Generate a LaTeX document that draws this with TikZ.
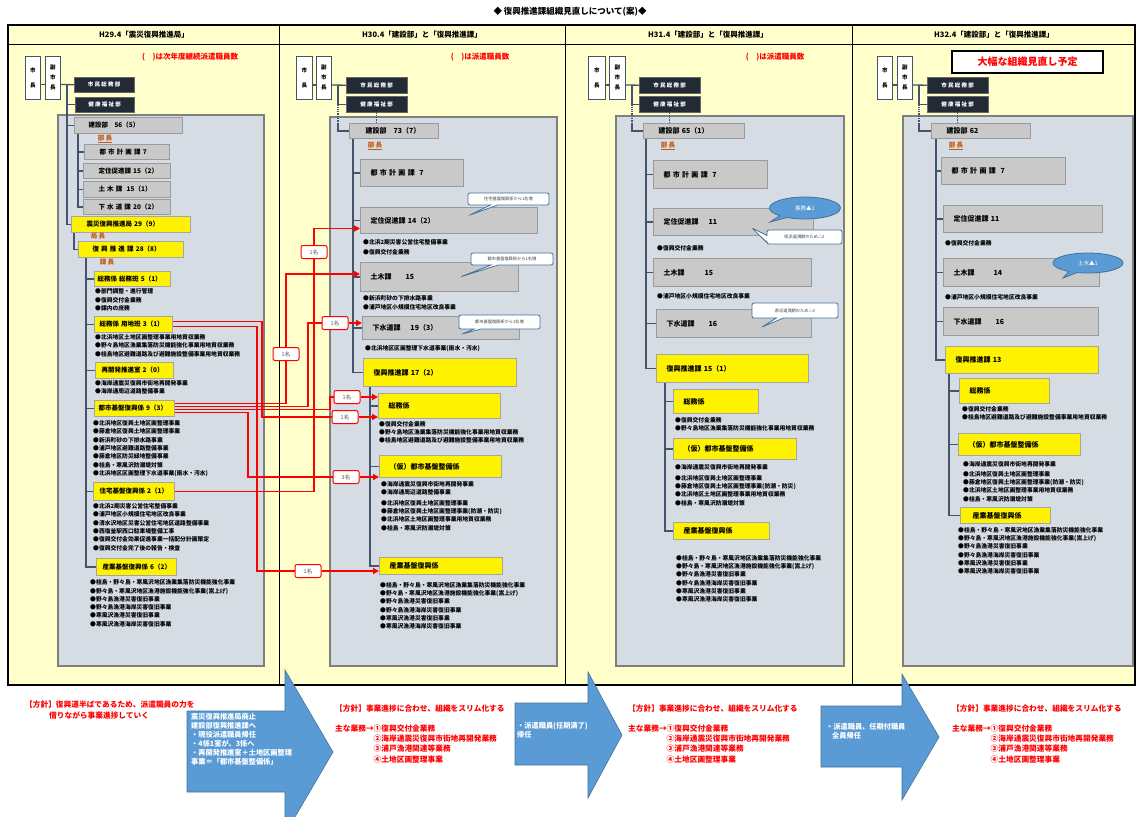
\documentclass[tikz,border=0pt]{standalone}
\usepackage{fontspec}
\setmainfont{Noto Sans CJK JP}
\usetikzlibrary{arrows.meta,shapes.callouts}
\definecolor{bgyellow}{HTML}{FFFFCC}
\definecolor{panelfill}{HTML}{D6DCE4}
\definecolor{panelline}{HTML}{7F7F7F}
\definecolor{greyfill}{HTML}{C9C9C9}
\definecolor{greyline}{HTML}{9A9A9A}
\definecolor{ylwline}{HTML}{A5A5A5}
\definecolor{darkfill}{HTML}{222A35}
\definecolor{lineblue}{HTML}{44546A}
\definecolor{chiefcol}{HTML}{C55A11}
\definecolor{arrowblue}{HTML}{5B9BD5}
\definecolor{arrowline}{HTML}{41719C}
\begin{document}
\begin{tikzpicture}[x=1pt,y=-1pt,
gbox/.style ={draw=greyline, fill=greyfill, line width=1pt, anchor=north west,
  inner xsep=10pt, inner ysep=0pt, align=left,
  font=\fontsize{7}{8}\selectfont\bfseries},
ybox/.style ={gbox, draw=ylwline, fill=yellow},
sgbox/.style ={gbox, font=\fontsize{6.5}{7}\selectfont\bfseries},
sybox/.style ={sgbox, draw=ylwline, fill=yellow},
dbox/.style ={draw=black!60, fill=darkfill, text=white, anchor=north west,
  inner sep=0pt, minimum width=61pt, minimum height=16pt,
  font=\fontsize{5.5}{6}\selectfont\bfseries},
mbox/.style ={draw=lineblue, fill=white, line width=0.8pt, anchor=north west,
  inner sep=0pt, minimum width=15pt, minimum height=43pt, align=center},
mtwo/.style ={mbox, font=\fontsize{5.5}{15}\selectfont\bfseries},
mthree/.style ={mbox, font=\fontsize{5.5}{10}\selectfont\bfseries},
panel/.style ={draw=panelline, fill=panelfill, line width=1.5pt},
orgline/.style ={draw=lineblue, line width=1.3pt},
blt/.style ={anchor=north west, inner sep=0pt, align=left,
  font=\fontsize{5.8}{8.3}\selectfont\bfseries},
chief/.style ={text=chiefcol, inner sep=0pt, font=\fontsize{6.5}{7}\selectfont\bfseries},
head/.style ={inner sep=0pt, font=\fontsize{7.5}{8}\selectfont\bfseries},
rnote/.style ={text=red, inner sep=0pt, font=\fontsize{7.5}{8}\selectfont\bfseries},
redline/.style ={draw=red, line width=1.6pt},
redarrow/.style ={redline, -{Triangle[length=6pt,width=6pt]}},
cnt/.style ={draw=red, fill=white, line width=1pt, rounded corners=2pt,
  minimum width=26pt, minimum height=13pt, inner sep=0pt,
  text=black!65, font=\fontsize{5.5}{6}\selectfont},
note/.style ={rectangle callout, draw=arrowline, fill=white, line width=0.8pt,
  rounded corners=2pt, inner sep=0pt, text=black!75,
  font=\fontsize{4.2}{5}\selectfont},
bubble/.style ={ellipse callout, draw=arrowline, fill=arrowblue, line width=0.8pt,
  inner sep=0pt, text=white, font=\fontsize{5.5}{6}\selectfont},
bigarrow/.style ={draw=arrowline, fill=arrowblue, line width=0.6pt},
arrowtxt/.style ={anchor=north west, inner sep=0pt, align=left, text=white,
  font=\fontsize{7.2}{9}\selectfont\bfseries},
policy/.style ={anchor=north west, inner sep=0pt, align=left, text=red,
  font=\fontsize{7.7}{10.3}\selectfont\bfseries}
]
\useasboundingbox (0,0) rectangle (1136,817);
\node (title) at (570,12) [inner sep=0pt, font=\fontsize{8.5}{9}\selectfont\bfseries] {◆ 復興推進課組織見直しについて(案)◆};
\fill[bgyellow] (8,25) rectangle (1135,685);
\draw[line width=1.2pt] (8,25) rectangle (1135,685);
\draw[line width=1pt] (8,44) -- (1135,44);
\draw[line width=1pt] (279,25) -- (279,685);
\draw[line width=1pt] (565,25) -- (565,685);
\draw[line width=1pt] (852,25) -- (852,685);
\draw[panel] (58,115) rectangle (264,666);
\draw[panel] (330,117) rectangle (557,666);
\draw[panel] (616,116) rectangle (844,666);
\draw[panel] (903,116) rectangle (1133,666);

\node (hd1) at (144,35) [head] {H29.4「震災復興推進局」};
\node (nt1) at (190,57) [rnote] {(　)は次年度継続派遣職員数};
\node (mayor1) at (25,56) [mtwo] {市\\長};
\node (vice1) at (45,56) [mthree] {副\\市\\長};
\node (shimin1) at (74,77) [dbox, minimum width=60pt, minimum height=15pt] {市 民 総 務 部};
\node (kenko1) at (75,97) [dbox, minimum width=59pt, minimum height=15pt] {健 康 福 祉 部};
\node (k1) at (74,117) [sgbox, inner xsep=14pt, text width=80pt, minimum height=16pt] {建設部\quad 56（5）};
\node (bucho1) at (105,139) [chief] {\underline{部 長}};
\node (tk1) at (84,144) [sgbox, inner xsep=15pt, text width=55pt, minimum height=15pt] {都~市~計~画~課~7};
\node (tj1) at (83,163) [sgbox, inner xsep=15pt, text width=57pt, minimum height=15pt] {定住促進課~15（2）};
\node (dk1) at (83,181) [sgbox, inner xsep=15pt, text width=57pt, minimum height=16pt] {土~木~課~~15（1）};
\node (gs1) at (83,199) [sgbox, inner xsep=15pt, text width=57pt, minimum height=15pt] {下~水~道~課~20（2）};
\node (sk1) at (71,216) [sybox, inner xsep=15pt, text width=89pt, minimum height=16pt] {震災復興推進局~29（9）};
\node (kyoku1) at (98,236) [chief] {局 長};
\node (fk1) at (78,241) [sybox, inner xsep=14pt, text width=77pt, minimum height=16pt] {復~興~推~進~課~28（8）};
\node (kacho1) at (107,262) [chief] {課 長};
\node (sm1) at (94,271) [sybox, inner xsep=3pt, text width=70pt, minimum height=15pt] {総務係~総務班~5（1）};
\node (yc1) at (94,316) [sybox, inner xsep=5pt, text width=68pt, minimum height=16pt] {総務係~用地班~3（1）};
\node (sai1) at (95,362) [sybox, inner xsep=6pt, text width=66pt, minimum height=16pt] {再開発推進室~2（0）};
\node (tb1) at (94,400) [sybox, inner xsep=4pt, text width=72pt, minimum height=16pt] {都市基盤復興係~9（3）};
\node (jt1) at (93,482) [sybox, inner xsep=6pt, text width=69pt, minimum height=18pt] {住宅基盤復興係~2（1）};
\node (sg1) at (96,558) [sybox, inner xsep=6pt, text width=68pt, minimum height=17pt] {産業基盤復興係~6（2）};
\node (b1a) at (95,288.5) [blt] {●部門調整・進行管理\\●復興交付金業務\\●課内の庶務};
\node (b1b) at (95,334.5) [blt] {●北浜地区土地区画整理事業用地買収業務\\●野々島地区漁業集落防災機能強化事業用地買収業務\\●桂島地区避難道路及び避難施設整備事業用地買収業務};
\node (b1c) at (95,380.5) [blt] {●海岸通震災復興市街地再開発事業\\●海岸通周辺道路整備事業};
\node (b1d) at (93,420.5) [blt] {●北浜地区復興土地区画整理事業\\●藤倉地区復興土地区画整理事業\\●新浜町砂の下排水路事業\\●浦戸地区避難道路整備事業\\●藤倉地区防災緑地整備事業\\●桂島・寒風沢防潮堤対策\\●北浜地区区画整理下水道事業(雨水・汚水)};
\node (b1e) at (93,503.5) [blt] {●北浜2期災害公営住宅整備事業\\●浦戸地区小規模住宅地区改良事業\\●清水沢地区災害公営住宅地区道路整備事業\\●西塩釜駅西口駐車場整備工事\\●復興交付金効果促進事業一括配分計画策定\\●復興交付金完了後の報告・検査};
\node (b1f) at (90,579.5) [blt] {●桂島・野々島・寒風沢地区漁業集落防災機能強化事業\\●野々島・寒風沢地区漁港施設機能強化事業(嵩上げ)\\●野々島漁港災害復旧事業\\●野々島漁港海岸災害復旧事業\\●寒風沢漁港災害復旧事業\\●寒風沢漁港海岸災害復旧事業};

\node (hd2) at (422,35) [head] {H30.4「建設部」と「復興推進課」};
\node (nt2) at (480,57) [rnote] {(　)は派遣職員数};
\node (mayor2) at (296,56) [mtwo, minimum width=16pt] {市\\長};
\node (vice2) at (316,56) [mthree] {副\\市\\長};
\node (shimin2) at (346,77) [dbox] {市 民 総 務 部};
\node (kenko2) at (346,96) [dbox] {健 康 福 祉 部};
\node (k2) at (349,123) [gbox, inner xsep=16pt, text width=57pt, minimum height=15pt] {建設部\quad 73（7）};
\node (bucho2) at (375,146) [chief] {\underline{部 長}};
\node (tk2) at (360,159) [gbox, text width=83pt, minimum height=27pt] {都~市~計~画~課~~7};
\node (tj2) at (360,207) [gbox, text width=157pt, minimum height=26pt] {定住促進課~14（2）};
\node (dk2) at (360,262) [gbox, text width=138pt, minimum height=29pt] {土木課\hspace{14pt}15};
\node (gs2) at (362,316) [gbox, text width=137pt, minimum height=23pt] {下水道課\hspace{10pt}19（3）};
\node (fk2) at (363,358) [ybox, text width=133pt, minimum height=28pt] {復興推進課~17（2）};
\node (sm2) at (378,393) [ybox, text width=102pt, minimum height=25pt] {総務係};
\node (kb2) at (379,455) [ybox, text width=102pt, minimum height=22pt] {（仮）都市基盤整備係};
\node (sg2) at (379,557) [ybox, text width=103pt, minimum height=17pt] {産業基盤復興係};
\node (b2a) at (363,239) [blt, font=\fontsize{5.8}{10}\selectfont\bfseries] {●北浜2期災害公営住宅整備事業\\●復興交付金業務};
\node (b2b) at (363,295) [blt, font=\fontsize{5.8}{9}\selectfont\bfseries] {●新浜町砂の下排水路事業\\●浦戸地区小規模住宅地区改良事業};
\node (b2c) at (365,345) [blt] {●北浜地区区画整理下水道事業(雨水・汚水)};
\node (b2d) at (379,421) [blt] {●復興交付金業務\\●野々島地区漁業集落防災機能強化事業用地買収業務\\●桂島地区避難道路及び避難施設整備事業用地買収業務};
\node (b2e) at (381,481) [blt] {●海岸通震災復興市街地再開発事業\\●海岸通周辺道路整備事業\\[2.5pt]●北浜地区復興土地区画整理事業\\●藤倉地区復興土地区画整理事業(防潮・防災)\\●北浜地区土地区画整理事業用地買収業務\\●桂島・寒風沢防潮堤対策};
\node (b2f) at (380,582) [blt] {●桂島・野々島・寒風沢地区漁業集落防災機能強化事業\\●野々島・寒風沢地区漁港施設機能強化事業(嵩上げ)\\●野々島漁港災害復旧事業\\●野々島漁港海岸災害復旧事業\\●寒風沢漁港災害復旧事業\\●寒風沢漁港海岸災害復旧事業};

\node (hd3) at (708,35) [head] {H31.4「建設部」と「復興推進課」};
\node (nt3) at (775,57) [rnote] {(　)は派遣職員数};
\node (mayor3) at (588,56) [mtwo, minimum width=17pt] {市\\長};
\node (vice3) at (609,56) [mthree, minimum width=16pt] {副\\市\\長};
\node (shimin3) at (639,77) [dbox] {市 民 総 務 部};
\node (kenko3) at (639,96) [dbox] {健 康 福 祉 部};
\node (k3) at (643,123) [gbox, inner xsep=15pt, text width=71pt, minimum height=15pt] {建設部~65（1）};
\node (bucho3) at (668,146) [chief] {\underline{部 長}};
\node (tk3) at (653,160) [gbox, text width=94pt, minimum height=28pt] {都~市~計~画~課~~7};
\node (tj3) at (653,208) [gbox, text width=140pt, minimum height=27pt] {定住促進課\hspace{10pt}11};
\node (dk3) at (653,258) [gbox, text width=138pt, minimum height=28pt] {土木課\hspace{20pt}15};
\node (gs3) at (656,309) [gbox, text width=135pt, minimum height=28pt] {下水道課\hspace{14pt}16};
\node (fk3) at (656,354) [ybox, text width=132pt, minimum height=28pt] {復興推進課~15（1）};
\node (sm3) at (673,389) [ybox, text width=65pt, minimum height=24pt] {総務係};
\node (kb3) at (673,438) [ybox, text width=103pt, minimum height=21pt] {（仮）都市基盤整備係};
\node (sg3) at (673,522) [ybox, text width=76pt, minimum height=17pt] {産業基盤復興係};
\node (b3a) at (657,245) [blt] {●復興交付金業務};
\node (b3b) at (657,293) [blt] {●浦戸地区小規模住宅地区改良事業};
\node (b3c) at (675,417) [blt] {●復興交付金業務\\●野々島地区漁業集落防災機能強化事業用地買収業務};
\node (b3d) at (675,464) [blt] {●海岸通震災復興市街地再開発事業\\[2.7pt]●北浜地区復興土地区画整理事業\\●藤倉地区復興土地区画整理事業(防潮・防災)\\●北浜地区土地区画整理事業用地買収業務\\●桂島・寒風沢防潮堤対策};
\node (b3e) at (676,555) [blt] {●桂島・野々島・寒風沢地区漁業集落防災機能強化事業\\●野々島・寒風沢地区漁港施設機能強化事業(嵩上げ)\\●野々島漁港災害復旧事業\\●野々島漁港海岸災害復旧事業\\●寒風沢漁港災害復旧事業\\●寒風沢漁港海岸災害復旧事業};

\node (hd4) at (994,35) [head] {H32.4「建設部」と「復興推進課」};
\node (rev4) at (1027.5,62) [draw, fill=white, line width=1.5pt, minimum width=151pt, minimum height=22pt, inner sep=0pt, text=red, font=\fontsize{10}{11}\selectfont\bfseries] {大幅な組織見直し予定};
\node (mayor4) at (877,56) [mtwo] {市\\長};
\node (vice4) at (897,56) [mthree] {副\\市\\長};
\node (shimin4) at (927,77) [dbox] {市 民 総 務 部};
\node (kenko4) at (927,96) [dbox] {健 康 福 祉 部};
\node (k4) at (931,123) [gbox, inner xsep=15pt, text width=69pt, minimum height=15pt] {建設部~62};
\node (bucho4) at (956,146) [chief] {\underline{部 長}};
\node (tk4) at (941,157) [gbox, text width=104pt, minimum height=27pt] {都~市~計~画~課~~7};
\node (tj4) at (943,205) [gbox, text width=139pt, minimum height=27pt] {定住促進課~11};
\node (dk4) at (943,258) [gbox, text width=136pt, minimum height=28pt] {土木課\hspace{19pt}14};
\node (gs4) at (943,307) [gbox, text width=135pt, minimum height=28pt] {下水道課\hspace{14pt}16};
\node (fk4) at (945,346) [ybox, text width=133pt, minimum height=27pt] {復興推進課~13};
\node (sm4) at (959,378) [ybox, text width=70pt, minimum height=25pt] {総務係};
\node (kb4) at (958,433) [ybox, text width=102pt, minimum height=22pt] {（仮）都市基盤整備係};
\node (sg4) at (960,507) [ybox, inner xsep=12pt, text width=66pt, minimum height=16pt] {産業基盤復興係};
\node (b4a) at (945,240) [blt] {●復興交付金業務};
\node (b4b) at (945,294) [blt] {●浦戸地区小規模住宅地区改良事業};
\node (b4c) at (962,406) [blt] {●復興交付金業務\\●桂島地区避難道路及び避難施設整備事業用地買収業務};
\node (b4d) at (963,461) [blt] {●海岸通震災復興市街地再開発事業\\[1.7pt]●北浜地区復興土地区画整理事業\\●藤倉地区復興土地区画整理事業(防潮・防災)\\●北浜地区土地区画整理事業用地買収業務\\●桂島・寒風沢防潮堤対策};
\node (b4e) at (958,527) [blt] {●桂島・野々島・寒風沢地区漁業集落防災機能強化事業\\●野々島・寒風沢地区漁港施設機能強化事業(嵩上げ)\\●野々島漁港災害復旧事業\\●野々島漁港海岸災害復旧事業\\●寒風沢漁港災害復旧事業\\●寒風沢漁港海岸災害復旧事業};

\coordinate (j1) at (67,84.5);
\draw[orgline] (mayor1.east |- j1) -- (vice1.west |- j1);
\draw[orgline] (vice1.east |- j1) -- (shimin1.west);
\draw[orgline] (j1) |- (sk1.west);
\draw[orgline] (j1 |- kenko1.west) -- (kenko1.west);
\draw[orgline] (j1 |- k1.west) -- (k1.west);
\coordinate (t1) at ([xshift=4pt]k1.south west);
\draw[orgline] (t1) |- (gs1.west);
\draw[orgline] (t1 |- tk1.west) -- (tk1.west);
\draw[orgline] (t1 |- tj1.west) -- (tj1.west);
\draw[orgline] (t1 |- dk1.west) -- (dk1.west);
\draw[orgline] ([xshift=3pt]sk1.south west) |- (fk1.west);
\coordinate (f1) at ([xshift=8pt]fk1.south west);
\draw[orgline] (f1) |- (sg1.west);
\draw[orgline] (f1 |- sm1.west) -- (sm1.west);
\draw[orgline] (f1 |- yc1.west) -- (yc1.west);
\draw[orgline] (f1 |- sai1.west) -- (sai1.west);
\draw[orgline] (f1 |- tb1.west) -- (tb1.west);
\draw[orgline] (f1 |- jt1.west) -- (jt1.west);

\coordinate (j2) at (338,85);
\draw[orgline] (mayor2.east |- j2) -- (vice2.west |- j2);
\draw[orgline] (vice2.east |- j2) -- (shimin2.west);
\draw[orgline] (j2) |- (kenko2.west);
\draw[orgline, densely dotted] (j2 |- kenko2.west) -- (j2 |- k2.north);
\draw[orgline] (j2 |- k2.north) |- (k2.west);
\draw[orgline, densely dotted] (kenko2.south) -- (kenko2.south |- k2.north);
\coordinate (t2) at ([xshift=4pt]k2.south west);
\draw[orgline] (t2) |- (fk2.west);
\draw[orgline] (t2 |- tk2.west) -- (tk2.west);
\draw[orgline] (t2 |- tj2.west) -- (tj2.west);
\draw[orgline] (t2 |- dk2.west) -- (dk2.west);
\draw[orgline] (t2 |- gs2.west) -- (gs2.west);
\coordinate (f2) at ([xshift=7pt]fk2.south west);
\draw[orgline] (f2) |- (sg2.west);
\draw[orgline] (f2 |- sm2.west) -- (sm2.west);
\draw[orgline] (f2 |- kb2.west) -- (kb2.west);

\coordinate (j3) at (632,85);
\draw[orgline] (mayor3.east |- j3) -- (vice3.west |- j3);
\draw[orgline] (vice3.east |- j3) -- (shimin3.west);
\draw[orgline] (j3) |- (kenko3.west);
\draw[orgline, densely dotted] (j3 |- kenko3.west) -- (j3 |- k3.north);
\draw[orgline] (j3 |- k3.north) |- (k3.west);
\draw[orgline, densely dotted] (kenko3.south) -- (kenko3.south |- k3.north);
\coordinate (t3) at ([xshift=3pt]k3.south west);
\draw[orgline] (t3) |- (fk3.west);
\draw[orgline] (t3 |- tk3.west) -- (tk3.west);
\draw[orgline] (t3 |- tj3.west) -- (tj3.west);
\draw[orgline] (t3 |- dk3.west) -- (dk3.west);
\draw[orgline] (t3 |- gs3.west) -- (gs3.west);
\coordinate (f3) at ([xshift=9pt]fk3.south west);
\draw[orgline] (f3) |- (sg3.west);
\draw[orgline] (f3 |- sm3.west) -- (sm3.west);
\draw[orgline] (f3 |- kb3.west) -- (kb3.west);

\coordinate (j4) at (919,85);
\draw[orgline] (mayor4.east |- j4) -- (vice4.west |- j4);
\draw[orgline] (vice4.east |- j4) -- (shimin4.west);
\draw[orgline] (j4) |- (kenko4.west);
\draw[orgline, densely dotted] (j4 |- kenko4.west) -- (j4 |- k4.north);
\draw[orgline] (j4 |- k4.north) |- (k4.west);
\draw[orgline, densely dotted] (kenko4.south) -- (kenko4.south |- k4.north);
\coordinate (t4) at ([xshift=5pt]k4.south west);
\draw[orgline] (t4) |- (fk4.west);
\draw[orgline] (t4 |- tk4.west) -- (tk4.west);
\draw[orgline] (t4 |- tj4.west) -- (tj4.west);
\draw[orgline] (t4 |- dk4.west) -- (dk4.west);
\draw[orgline] (t4 |- gs4.west) -- (gs4.west);
\coordinate (f4) at ([xshift=4pt]fk4.south west);
\draw[orgline] (f4) |- (sg4.west);
\draw[orgline] (f4 |- sm4.west) -- (sm4.west);
\draw[orgline] (f4 |- kb4.west) -- (kb4.west);

\node (L1) at (314,252) [cnt] {1名};
\node (L2) at (286,354) [cnt] {1名};
\node (L3) at (335,323) [cnt] {1名};
\node (L4) at (347,397) [cnt] {1名};
\node (L5) at (345,417) [cnt] {1名};
\node (L6) at (346,477) [cnt] {3名};
\node (L7) at (308,571) [cnt] {1名};
\draw[redline] (jt1.east) -| (L1.south);
\draw[redarrow] (L1.north) |- ([yshift=-8pt]tj2.west);
\draw[redline] ([yshift=5pt]tb1.east) -| (L2.south);
\draw[redarrow] (L2.north) |- ([yshift=3pt]dk2.west);
\draw[redline] ([yshift=2pt]tb1.east) -- ++(133,0) |- (L3.west);
\draw[redarrow] (L3.east) -- (L3.east -| gs2.west);
\draw[redline] ([yshift=-1pt]tb1.east) -- ++(155,0) |- (L4.west);
\draw[redarrow] (L4.east) -- (L4.east -| sm2.west);
\draw[redline] ([yshift=3pt]yc1.east) -- ++(89,0) |- (L5.west);
\draw[redarrow] (L5.east) -- (L5.east -| sm2.west);
\draw[redline] ([yshift=-4pt]tb1.east) -- ++(73,0) |- (L6.west);
\draw[redarrow] (L6.east) -- (L6.east -| kb2.west);
\draw[redline] ([yshift=-2pt]yc1.east) -- ++(84,0) |- (L7.west);
\draw[redarrow] (L7.east) -- (L7.east -| sg2.west);

\node (c1) at (508.5,199) [note, minimum width=81pt, minimum height=12pt, callout absolute pointer={(470,215)}] {住宅基盤復興係から1名増};
\node (c2) at (512,259) [note, minimum width=82pt, minimum height=12pt, callout absolute pointer={(460,277)}] {都市基盤復興係から1名増};
\node (c3) at (499.5,322) [note, minimum width=81pt, minimum height=14pt, callout absolute pointer={(462,334)}] {都市基盤復興係から1名増};
\node (e1) at (805,208) [bubble, minimum width=71pt, minimum height=22pt, callout absolute pointer={(770,222)}] {事務▲1};
\node (c4) at (804.5,237) [note, minimum width=75pt, minimum height=14pt, callout absolute pointer={(752,228)}] {県派遣満期のため△2};
\node (c5) at (795,310.5) [note, minimum width=86pt, minimum height=15pt, callout absolute pointer={(762,327)}] {県派遣満期のため△3};
\node (e2) at (1088,263) [bubble, minimum width=70pt, minimum height=20pt, callout absolute pointer={(1063,278)}] {土木▲1};

\draw[bigarrow] (187,711) -- (285,711) -- (285,670) -- (333,752) -- (285,834) -- (285,792) -- (187,792) -- cycle;
\draw[bigarrow] (515,703) -- (588,703) -- (588,672) -- (622,735) -- (588,798) -- (588,765) -- (515,765) -- cycle;
\draw[bigarrow] (821,706) -- (902,706) -- (902,674) -- (939,737) -- (902,800) -- (902,767) -- (821,767) -- cycle;
\node (a1txt) at (191,713) [arrowtxt] {震災復興推進局廃止\\建設部復興推進課へ\\・現役派遣職員帰任\\・4係1室が、3係へ\\・再開発推進室＋土地区画整理\\事業＝「都市基盤整備係」};
\node (a2txt) at (517,722) [arrowtxt] {・派遣職員(任期満了)\\帰任};
\node (a3txt) at (826,723) [arrowtxt] {・派遣職員、任期付職員\\\hspace*{6pt}全員帰任};
\node (pol1) at (25,701) [policy] {【方針】復興道半ばであるため、派遣職員の力を\\\hspace*{24pt}借りながら事業進捗していく};
\node (pol2) at (335,705) [policy] {【方針】事業進捗に合わせ、組織をスリム化する\\[9pt]主な業務→①復興交付金業務\\\hspace*{38.5pt}②海岸通震災復興市街地再開発業務\\\hspace*{38.5pt}③浦戸漁港関連等業務\\\hspace*{38.5pt}④土地区画整理事業};
\node (pol3) at (628,705) [policy] {【方針】事業進捗に合わせ、組織をスリム化する\\[9pt]主な業務→①復興交付金業務\\\hspace*{38.5pt}②海岸通震災復興市街地再開発業務\\\hspace*{38.5pt}③浦戸漁港関連等業務\\\hspace*{38.5pt}④土地区画整理事業};
\node (pol4) at (952,705) [policy] {【方針】事業進捗に合わせ、組織をスリム化する\\[9pt]主な業務→①復興交付金業務\\\hspace*{38.5pt}②海岸通震災復興市街地再開発業務\\\hspace*{38.5pt}③浦戸漁港関連等業務\\\hspace*{38.5pt}④土地区画整理事業};
\end{tikzpicture}
\end{document}
